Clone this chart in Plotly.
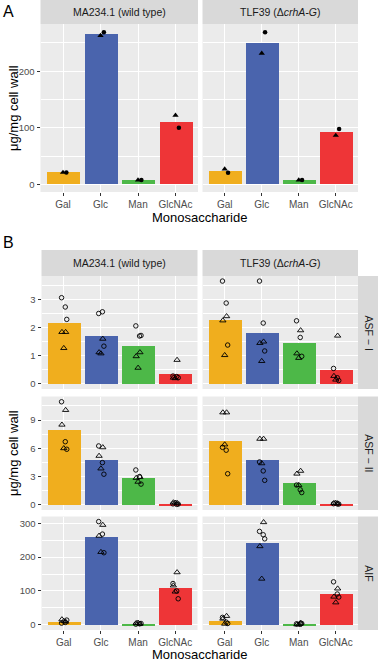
import plotly.graph_objects as go

W, H = 378, 661

SUGARS = ["Gal", "Glc", "Man", "GlcNAc"]
COLORS = ["#F0AE1E", "#4A64AD", "#4DB848", "#EE3537"]
STRAINS = ["MA234.1 (wild type)", "TLF39 (\u0394<i>crhA-G</i>)"]
FRACTIONS = ["ASF \u2212 I", "ASF \u2212 II", "AIF"]

# Panel A: two replicates (filled circle / filled triangle) per sugar
A_WT_circ = [21, 269, 7.5, 100]
A_WT_tri = [21, 263, 7.5, 122]
A_TLF_circ = [20.5, 269, 7.5, 98]
A_TLF_tri = [27, 231.6, 7.5, 86.5]

# Panel B: per fraction and strain, lists of values per sugar
ASF1_WT_circ = [[3.06, 2.73, 2.29], [2.5, 2.56, 1.34], [2.06, 1.70, 1.72], [0.28, 0.26, 0.22]]
ASF1_WT_tri = [[1.84, 1.84, 1.27], [1.6, 1.12, 1.08], [1.12, 0.98, 0.57], [0.85, 0.22, 0.20]]
ASF1_TLF_circ = [[3.65, 2.87, 1.38], [3.65, 2.16, 1.17], [2.24, 1.65, 0.98], [0.55, 0.22, 0.12]]
ASF1_TLF_tri = [[2.4, 2.25, 1.02], [1.5, 1.45, 0.81], [1.9, 1.08, 0.92], [1.71, 0.28, 0.15]]

ASF2_WT_circ = [[10.94, 6.7, 5.9], [6.25, 4.48, 3.25], [3.7, 3.0, 2.2], [0.1, 0.05, 0.08]]
ASF2_WT_tri = [[10.06, 8.5, 6.0], [6.1, 5.19, 3.85], [2.95, 2.85, 2.44], [0.2, 0.25, 0.22]]
ASF2_TLF_circ = [[6.1, 5.8, 3.3], [4.55, 3.6, 2.6], [2.1, 1.6, 1.3], [0.12, 0.1, 0.08]]
ASF2_TLF_tri = [[9.8, 9.8, 6.4], [7.0, 7.0, 4.4], [3.6, 3.3, 2.1], [0.15, 0.18, 0.2]]

AIF_WT_circ = [[5, 7, 14], [305, 268, 213], [2, 3, 4], [122, 100, 77]]
AIF_WT_tri = [[9, 16, 11], [295, 263, 215], [3, 5, 6], [155, 116, 98]]
AIF_TLF_circ = [[22, 8, 4], [276, 266, 254], [3, 2, 4], [127, 91, 82]]
AIF_TLF_tri = [[26, 18, 3], [303, 232, 136], [6, 1, 1], [107, 83, 66]]

A_TICKS = [0, 100, 200]
B_TICKS = [[0, 1, 2, 3], [0, 3, 6, 9], [0, 100, 200, 300]]

# horizontal jitter pattern (style only)
JIT_C = [-0.06, 0.04, 0.08]
JIT_T = [0.05, -0.05, 0.0]
JIT_A = [0.0, 0.09]


def pxx(x):
    return x / W


def pyy(y):
    return 1 - y / H


FONT = "Liberation Sans, Arial, sans-serif"
XTICK_FONT = dict(family=FONT, size=10, color="#4D4D4D")
YTICK_FONT = dict(family=FONT, size=9.5, color="#4D4D4D")
fig = go.Figure()
layout = {}
shapes = []
annotations = []

# panel geometry (pixels)
A_X = [(40.5, 198.0), (202.5, 358.0)]
A_Y = (24.0, 192.0)
B_X = [(41.5, 197.5), (202.5, 358.0)]
B_Y = [(276.0, 389.0), (396.5, 510.0), (516.5, 630.0)]
A_RANGE = [-13.5, 283.5]
B_RANGES = [[-0.18, 3.83], [-0.55, 11.5], [-15.25, 320.0]]


def mean(v):
    return sum(v) / len(v)


def add_panel(n, xd, yd, yrange, ticks, show_y, show_x):
    xa = "x" if n == 1 else f"x{n}"
    ya = "y" if n == 1 else f"y{n}"
    step = ticks[1] - ticks[0]
    minor = [t + step / 2 for t in [ticks[0] - step] + ticks]
    minor = [m for m in minor if yrange[0] < m < yrange[1]]
    layout["xaxis" if n == 1 else f"xaxis{n}"] = dict(
        domain=[pxx(xd[0]), pxx(xd[1])], anchor=ya, range=[-0.6, 3.6],
        tickvals=[0, 1, 2, 3], ticktext=SUGARS, showticklabels=show_x,
        ticks="outside" if show_x else "", ticklen=3, tickcolor="#333333", tickwidth=1,
        showgrid=True, gridcolor="white", gridwidth=1.1, zeroline=False, showline=False,
        tickfont=XTICK_FONT, fixedrange=True)
    layout["yaxis" if n == 1 else f"yaxis{n}"] = dict(
        domain=[pyy(yd[1]), pyy(yd[0])], anchor=xa, range=yrange,
        tickvals=ticks, showticklabels=show_y,
        ticks="outside" if show_y else "", ticklen=3, tickcolor="#333333", tickwidth=1,
        showgrid=True, gridcolor="white", gridwidth=1.1, zeroline=False, showline=False,
        minor=dict(tickvals=minor, showgrid=True, gridcolor="white", gridwidth=0.5, ticks=""),
        tickfont=YTICK_FONT, fixedrange=True)
    return xa, ya


def add_strip_top(xd, y0, y1, text):
    shapes.append(dict(type="rect", xref="paper", yref="paper", x0=pxx(xd[0]), x1=pxx(xd[1]),
                       y0=pyy(y1), y1=pyy(y0), fillcolor="#D9D9D9", line=dict(width=0), layer="below"))
    annotations.append(dict(xref="paper", yref="paper", x=pxx((xd[0] + xd[1]) / 2), y=pyy((y0 + y1) / 2),
                            text=text, showarrow=False, xanchor="center", yanchor="middle",
                            font=dict(family=FONT, size=10.5, color="#1A1A1A")))


def add_strip_right(x0, x1, yd, text):
    shapes.append(dict(type="rect", xref="paper", yref="paper", x0=pxx(x0), x1=pxx(x1),
                       y0=pyy(yd[1]), y1=pyy(yd[0]), fillcolor="#D9D9D9", line=dict(width=0), layer="below"))
    annotations.append(dict(xref="paper", yref="paper", x=pxx((x0 + x1) / 2 + 1), y=pyy((yd[0] + yd[1]) / 2),
                            text=text, showarrow=False, xanchor="center", yanchor="middle", textangle=90,
                            font=dict(family=FONT, size=10.5, color="#1A1A1A")))


# ---- Panel A ----
A_DATA = [(A_WT_circ, A_WT_tri), (A_TLF_circ, A_TLF_tri)]
for j, (circ, tri) in enumerate(A_DATA):
    n = 1 + j
    xa, ya = add_panel(n, A_X[j], A_Y, A_RANGE, A_TICKS, j == 0, True)
    means = [(c + t) / 2 for c, t in zip(circ, tri)]
    fig.add_trace(go.Bar(x=[0, 1, 2, 3], y=means, width=0.88, marker=dict(color=COLORS, line=dict(width=0)),
                         xaxis=xa, yaxis=ya, showlegend=False, hoverinfo="skip"))
    fig.add_trace(go.Scatter(x=[i + JIT_A[1] for i in range(4)], y=circ, mode="markers",
                             marker=dict(symbol="circle", size=4.5, color="black"),
                             xaxis=xa, yaxis=ya, showlegend=False, cliponaxis=False))
    fig.add_trace(go.Scatter(x=[i + JIT_A[0] for i in range(4)], y=tri, mode="markers",
                             marker=dict(symbol="triangle-up", size=5.5, color="black"),
                             xaxis=xa, yaxis=ya, showlegend=False, cliponaxis=False))
    add_strip_top(A_X[j], 0.0, A_Y[0], STRAINS[j])

# ---- Panel B ----
B_DATA = [
    [(ASF1_WT_circ, ASF1_WT_tri), (ASF1_TLF_circ, ASF1_TLF_tri)],
    [(ASF2_WT_circ, ASF2_WT_tri), (ASF2_TLF_circ, ASF2_TLF_tri)],
    [(AIF_WT_circ, AIF_WT_tri), (AIF_TLF_circ, AIF_TLF_tri)],
]
for r in range(3):
    for j in range(2):
        n = 3 + r * 2 + j
        circ, tri = B_DATA[r][j]
        xa, ya = add_panel(n, B_X[j], B_Y[r], B_RANGES[r], B_TICKS[r], j == 0, r == 2)
        means = [mean(c + t) for c, t in zip(circ, tri)]
        fig.add_trace(go.Bar(x=[0, 1, 2, 3], y=means, width=0.88, marker=dict(color=COLORS, line=dict(width=0)),
                             xaxis=xa, yaxis=ya, showlegend=False, hoverinfo="skip"))
        cx, cy, tx, ty = [], [], [], []
        for i in range(4):
            for k, v in enumerate(circ[i]):
                cx.append(i + JIT_C[k % len(JIT_C)])
                cy.append(v)
            for k, v in enumerate(tri[i]):
                tx.append(i + JIT_T[k % len(JIT_T)])
                ty.append(v)
        fig.add_trace(go.Scatter(x=cx, y=cy, mode="markers",
                                 marker=dict(symbol="circle-open", size=4.5, color="black", line=dict(width=0.9)),
                                 xaxis=xa, yaxis=ya, showlegend=False, cliponaxis=False))
        fig.add_trace(go.Scatter(x=tx, y=ty, mode="markers",
                                 marker=dict(symbol="triangle-up-open", size=5.5, color="black", line=dict(width=0.9)),
                                 xaxis=xa, yaxis=ya, showlegend=False, cliponaxis=False))
    add_strip_right(B_X[1][1], 378.0, B_Y[r], FRACTIONS[r])
for j in range(2):
    add_strip_top(B_X[j], 250.0, B_Y[0][0], STRAINS[j])

# Titles and panel letters
TITLE_FONT = dict(family=FONT, size=13, color="black")
annotations += [
    dict(xref="paper", yref="paper", x=pxx(199), y=pyy(217), text="Monosaccharide", showarrow=False,
         xanchor="center", yanchor="middle", font=TITLE_FONT),
    dict(xref="paper", yref="paper", x=pxx(199), y=pyy(654), text="Monosaccharide", showarrow=False,
         xanchor="center", yanchor="middle", font=TITLE_FONT),
    dict(xref="paper", yref="paper", x=pxx(13), y=pyy(108), text="\u03bcg/mg cell wall", showarrow=False,
         xanchor="center", yanchor="middle", textangle=-90, font=TITLE_FONT),
    dict(xref="paper", yref="paper", x=pxx(13), y=pyy(453), text="\u03bcg/mg cell wall", showarrow=False,
         xanchor="center", yanchor="middle", textangle=-90, font=TITLE_FONT),
    dict(xref="paper", yref="paper", x=pxx(1), y=pyy(12), text="A", showarrow=False,
         xanchor="left", yanchor="middle", font=dict(family=FONT, size=16, color="black")),
    dict(xref="paper", yref="paper", x=pxx(1), y=pyy(242), text="B", showarrow=False,
         xanchor="left", yanchor="middle", font=dict(family=FONT, size=16, color="black")),
]

fig.update_layout(**layout)
fig.update_layout(width=W, height=H, margin=dict(l=0, r=0, t=0, b=0), paper_bgcolor="white",
                  plot_bgcolor="#EBEBEB", showlegend=False, shapes=shapes, annotations=annotations,
                  bargap=0, font=dict(family=FONT))
fig.write_html("out.html", config={"displayModeBar": False},
               post_script="document.body.style.margin='0';document.body.style.overflow='hidden';")
